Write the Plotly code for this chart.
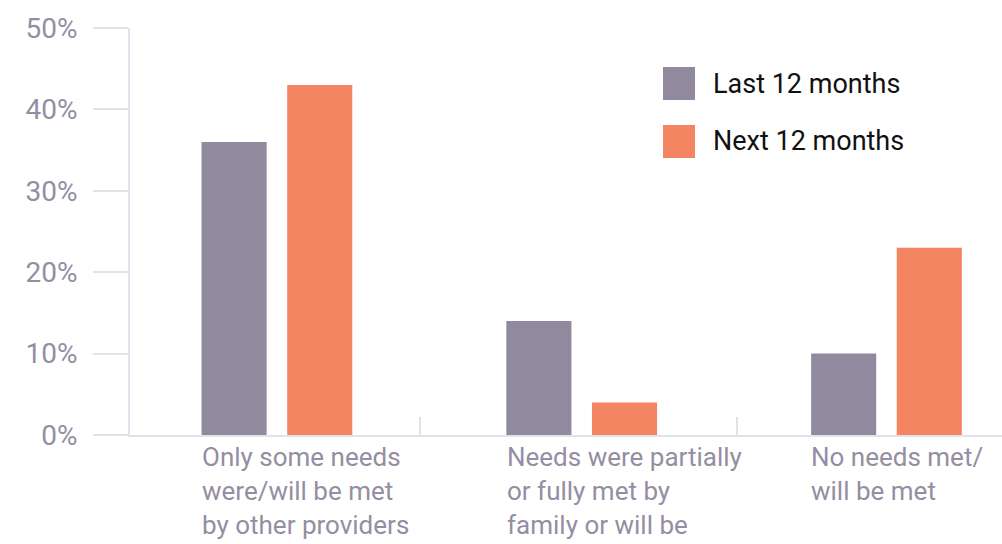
import plotly.graph_objects as go

# Share of respondents by how needs were / will be met
categories = [
    "Only some needs<br>were/will be met<br>by other providers",
    "Needs were partially<br>or fully met by<br>family or will be",
    "No needs met/<br>will be met",
]
series_names = ["Last 12 months", "Next 12 months"]
last_12 = [36, 14, 10]
next_12 = [43, 4, 23]
y_ticks = [0, 10, 20, 30, 40, 50]
y_tick_text = ["0%", "10%", "20%", "30%", "40%", "50%"]

GREY = "#918a9e"
ORANGE = "#f48562"
AXIS = "#dfe4ec"
LABEL = "#958ea3"
FONT = "Roboto, Arial, sans-serif"

xs = list(range(len(categories)))

fig = go.Figure()
fig.add_trace(go.Bar(x=xs, y=last_12, name=series_names[0], marker_color=GREY,
                     marker_line_width=0))
fig.add_trace(go.Bar(x=xs, y=next_12, name=series_names[1], marker_color=ORANGE,
                     marker_line_width=0))

# Category labels, left-aligned with the first bar of each group
for i, cat in enumerate(categories):
    fig.add_annotation(x=xs[i], y=0, xref="x", yref="y", text=cat,
                       xanchor="left", yanchor="top", align="left",
                       xshift=-77, yshift=-5, showarrow=False,
                       font=dict(family=FONT, size=26, color=LABEL))

# Hand-drawn legend: swatches and names
for k, (name, col) in enumerate(zip(series_names, [GREY, ORANGE])):
    top = 67 + k * 58
    fig.add_shape(type="rect", xref="paper", yref="paper",
                  x0=(663 - 130) / 872, x1=(695 - 130) / 872,
                  y0=(435 - top) / 407, y1=(435 - top - 33) / 407,
                  fillcolor=col, line_width=0)
    fig.add_annotation(x=(711 - 130) / 872, y=(435 - top - 16.5) / 407,
                       xref="paper", yref="paper", text=name,
                       xanchor="left", yanchor="middle", showarrow=False,
                       font=dict(family=FONT, size=27, color="#111111"))

fig.update_layout(
    width=1002, height=544,
    margin=dict(l=130, r=0, t=28, b=109),
    plot_bgcolor="white", paper_bgcolor="white",
    barmode="group", bargap=0.438, bargroupgap=0.24,
    showlegend=False,
    xaxis=dict(range=[-0.482, 2.379], showgrid=False, zeroline=False,
               showline=True, linecolor=AXIS, linewidth=2,
               tickmode="array", tickvals=[0.47, 1.51], ticktext=["", ""],
               ticks="inside", ticklen=18, tickwidth=2, tickcolor=AXIS),
    yaxis=dict(range=[0, 50], showgrid=False, zeroline=False,
               showline=True, linecolor=AXIS, linewidth=2,
               tickmode="array", tickvals=y_ticks, ticktext=y_tick_text,
               ticks="outside", ticklen=35, tickwidth=2, tickcolor=AXIS,
               ticklabelstandoff=10,
               tickfont=dict(family=FONT, size=28, color=LABEL)),
)

fig.write_html("out.html")
